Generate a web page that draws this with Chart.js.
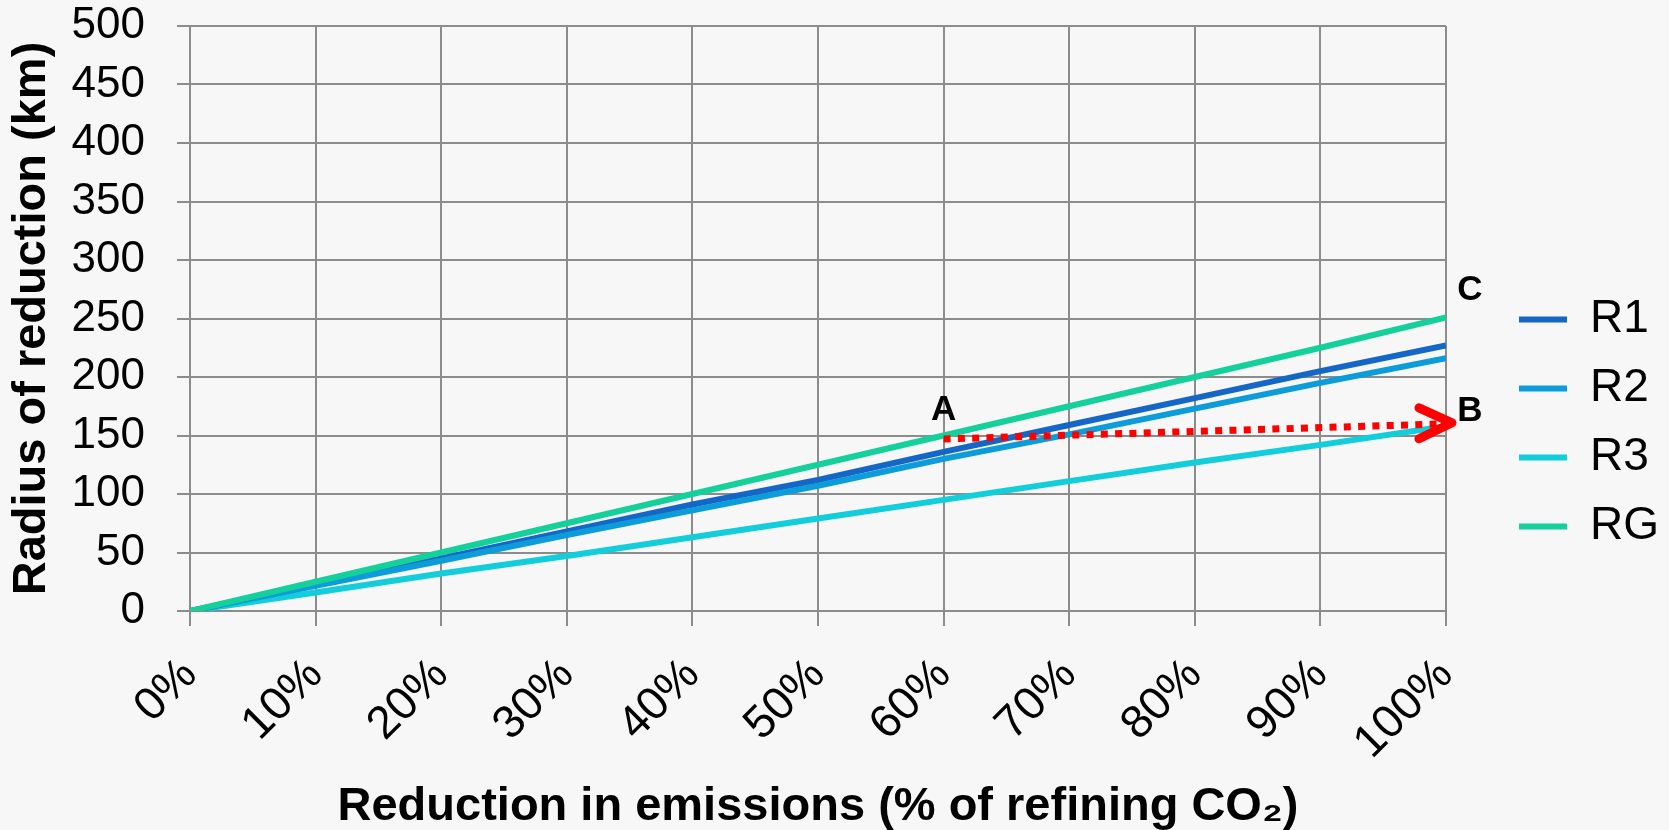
<!DOCTYPE html>
<html lang="en">
<head>
<meta charset="UTF-8">
<title>Radius of reduction</title>
<script src="https://cdn.jsdelivr.net/npm/chart.js"></script>
<style>
    body { margin: 0; background: #f7f7f7; }
    #wrap { width: 1669px; height: 830px; }
</style>
</head>
<body>
<div id="wrap"><canvas id="myChart" width="1669" height="830"></canvas></div>
<script>
// reduction in emissions (%) and radius (km)
const reduction = [0, 10, 20, 30, 40, 50, 60, 70, 80, 90, 100];
const r1 = [0, 22.7, 45, 68, 91, 112, 136, 159, 182, 205, 227];
const r2 = [0, 21.6, 43, 65, 86, 107, 130, 151, 173, 195, 216];
const r3 = [0, 15.8, 32, 47, 63, 79, 95, 111, 127, 142, 158];
const rg = [0, 25, 50, 75, 100, 125, 150, 175, 200, 225, 251];
const yTicks = [0, 50, 100, 150, 200, 250, 300, 350, 400, 450, 500];

// A -> B arrow and the point names
const arrowX = [60, 100];
const arrowY = [147, 160];
const markNames = ['A', 'B', 'C'];
const markX = [60, 100, 100];
const markY = [147, 160, 250];

const FONT = '"Liberation Sans", Arial, sans-serif';
const GRID = '#8c8c8c';

function series(vals) {
    return vals.map((v, i) => ({ x: reduction[i], y: v }));
}

// arrow head + A/B/C letters, placed via the scales
const marks = {
    id: 'marks',
    afterDatasetsDraw(chart) {
        const ctx = chart.ctx;
        const xs = chart.scales.x, ys = chart.scales.y;
        const tx = xs.getPixelForValue(arrowX[1]);
        const ty = ys.getPixelForValue(arrowY[1]);
        ctx.save();
        ctx.strokeStyle = '#ff0000';
        ctx.lineWidth = 9;
        ctx.lineCap = 'round';
        ctx.lineJoin = 'round';
        ctx.beginPath();
        ctx.moveTo(tx - 27, ty - 16);
        ctx.lineTo(tx + 6, ty - 1);
        ctx.lineTo(tx - 27, ty + 15);
        ctx.stroke();

        const offs = [[0, -29], [24, -12], [24, -28]];
        ctx.fillStyle = '#000';
        ctx.font = 'bold 35px ' + FONT;
        ctx.textAlign = 'center';
        ctx.textBaseline = 'middle';
        markNames.forEach((n, i) => {
            const px = xs.getPixelForValue(markX[i]) + offs[i][0];
            const py = ys.getPixelForValue(markY[i]) + offs[i][1];
            ctx.fillText(n, px, py);
        });
        ctx.restore();
    }
};

// push the legend column over to the right edge
const legendShift = {
    id: 'legendShift',
    afterLayout(chart) {
        const l = chart.legend;
        l.left += 50; l.right += 50;
        l.top += 8; l.bottom += 8;
    }
};

const ctx = document.getElementById('myChart').getContext('2d');
const myChart = new Chart(ctx, {
    type: 'line',
    data: {
        datasets: [
            { label: 'R1', data: series(r1), borderColor: '#1467c6', backgroundColor: '#1467c6', order: 3 },
            { label: 'R2', data: series(r2), borderColor: '#0c9cd9', backgroundColor: '#0c9cd9', order: 2 },
            { label: 'R3', data: series(r3), borderColor: '#12cedb', backgroundColor: '#12cedb', order: 4 },
            { label: 'RG', data: series(rg), borderColor: '#14d09b', backgroundColor: '#14d09b', order: 1 },
            {
                label: 'arrow',
                data: arrowX.map((x, i) => ({ x: x, y: arrowY[i] })),
                borderColor: '#ff0000',
                borderWidth: 7,
                borderDash: [7, 7.3],
                borderCapStyle: 'butt',
                order: 0
            }
        ]
    },
    options: {
        responsive: false,
        animation: false,
        devicePixelRatio: 1,
        layout: { padding: { top: 0, right: 50, bottom: 0, left: 0 } },
        elements: {
            line: { borderWidth: 6, tension: 0 },
            point: { radius: 0, hoverRadius: 0 }
        },
        plugins: {
            tooltip: { enabled: false },
            legend: {
                position: 'right',
                fullSize: true,
                labels: {
                    color: '#000',
                    font: { family: FONT, size: 46 },
                    boxWidth: 48,
                    boxHeight: 6,
                    padding: 23,
                    generateLabels(chart) {
                        return chart.data.datasets.slice(0, 4).map((d, i) => ({
                            text: d.label,
                            fillStyle: d.borderColor,
                            strokeStyle: d.borderColor,
                            lineWidth: 0,
                            fontColor: '#000',
                            hidden: false,
                            datasetIndex: i
                        }));
                    }
                }
            }
        },
        scales: {
            x: {
                type: 'linear',
                min: 0,
                max: 100,
                afterFit(scale) { scale.height = 219; },
                afterBuildTicks(scale) { scale.ticks = reduction.map(v => ({ value: v })); },
                ticks: {
                    color: '#000',
                    font: { family: FONT, size: 46 },
                    autoSkip: false,
                    maxRotation: 45,
                    minRotation: 45,
                    padding: 22,
                    callback: v => v + '%'
                },
                grid: { color: GRID, lineWidth: 2, tickLength: 15 },
                border: { color: GRID, width: 2 },
                title: {
                    display: true,
                    text: 'Reduction in emissions (% of refining CO\u2082)',
                    color: '#000',
                    padding: { top: 0, bottom: -5 },
                    font: { family: FONT, size: 47, weight: 'bold' }
                }
            },
            y: {
                min: 0,
                max: 500,
                afterFit(scale) {
                    scale.width = 190;
                    scale.paddingTop = 26;
                },
                afterBuildTicks(scale) { scale.ticks = yTicks.map(v => ({ value: v })); },
                ticks: {
                    color: '#000',
                    font: { family: FONT, size: 44 },
                    autoSkip: false,
                    padding: 32
                },
                grid: { color: GRID, lineWidth: 2, tickLength: 13 },
                border: { color: GRID, width: 2 },
                title: {
                    display: true,
                    text: 'Radius of reduction (km)',
                    color: '#000',
                    font: { family: FONT, size: 47, weight: 'bold' }
                }
            }
        }
    },
    plugins: [marks, legendShift]
});
</script>
</body>
</html>
